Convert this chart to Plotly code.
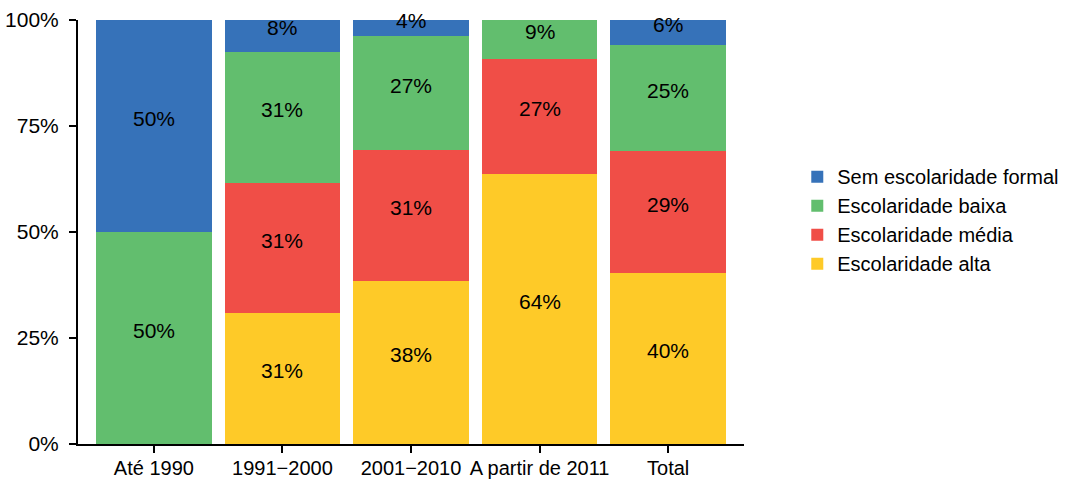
import numpy as np
import plotly.graph_objects as go

# Categories and shares (%) per schooling level
periods = ["Até 1990", "1991−2000", "2001−2010", "A partir de 2011", "Total"]
alta = [0, 30.8, 38.5, 63.6, 40.3]
media = [0, 30.8, 30.8, 27.3, 28.8]
baixa = [50, 30.8, 26.9, 9.1, 25.0]
sem = [50, 7.7, 3.8, 0, 5.9]
y_ticks = [0, 25, 50, 75, 100]
y_tick_labels = ["0%", "25%", "50%", "75%", "100%"]

series = [
    ("Escolaridade alta", alta, "#FECA28"),
    ("Escolaridade média", media, "#F04E47"),
    ("Escolaridade baixa", baixa, "#62BE6E"),
    ("Sem escolaridade formal", sem, "#3672B9"),
]

fig = go.Figure()
base = np.zeros(len(periods))
annotations = []
for name, vals, color in series:
    vals = np.array(vals, dtype=float)
    fig.add_trace(go.Bar(x=periods, y=vals, name=name, marker_color=color,
                         marker_line_width=0))
    # labels centred on each segment
    for i, v in enumerate(vals):
        if v > 0:
            annotations.append(dict(x=periods[i], y=base[i] + v / 2,
                                    text=f"{v:.0f}%", showarrow=False,
                                    yshift=8, font=dict(size=21, color="black")))
    base = base + vals

fig.update_layout(
    barmode="stack",
    bargap=0.1,
    width=1076, height=479,
    margin=dict(l=78, r=324, t=20, b=35),
    plot_bgcolor="white",
    paper_bgcolor="white",
    font=dict(family="Liberation Sans, Arial, sans-serif", size=20, color="black"),
    annotations=annotations,
    showlegend=True,
    legend=dict(traceorder="reversed", x=1.08, xanchor="left", y=0.528, yanchor="middle",
                font=dict(size=20), bgcolor="rgba(0,0,0,0)"),
)
fig.update_xaxes(range=[-0.59, 4.59], showline=True, linecolor="black", linewidth=2,
                 ticks="outside", ticklen=7, tickwidth=2, tickcolor="black",
                 tickfont=dict(size=20), ticklabelstandoff=-2,
                 showgrid=False, zeroline=False, automargin=False)
fig.update_yaxes(range=[0, 100], tickvals=y_ticks, ticktext=y_tick_labels,
                 showline=True, linecolor="black", linewidth=2,
                 ticks="outside", ticklen=7, tickwidth=2, tickcolor="black",
                 tickfont=dict(size=21), ticklabelstandoff=6,
                 showgrid=False, zeroline=False, automargin=False)

# drop the default body margin so the figure sits at the window's corner
fig.write_html("out.html", config={"displayModeBar": False},
               post_script="document.body.style.margin = '0';")
